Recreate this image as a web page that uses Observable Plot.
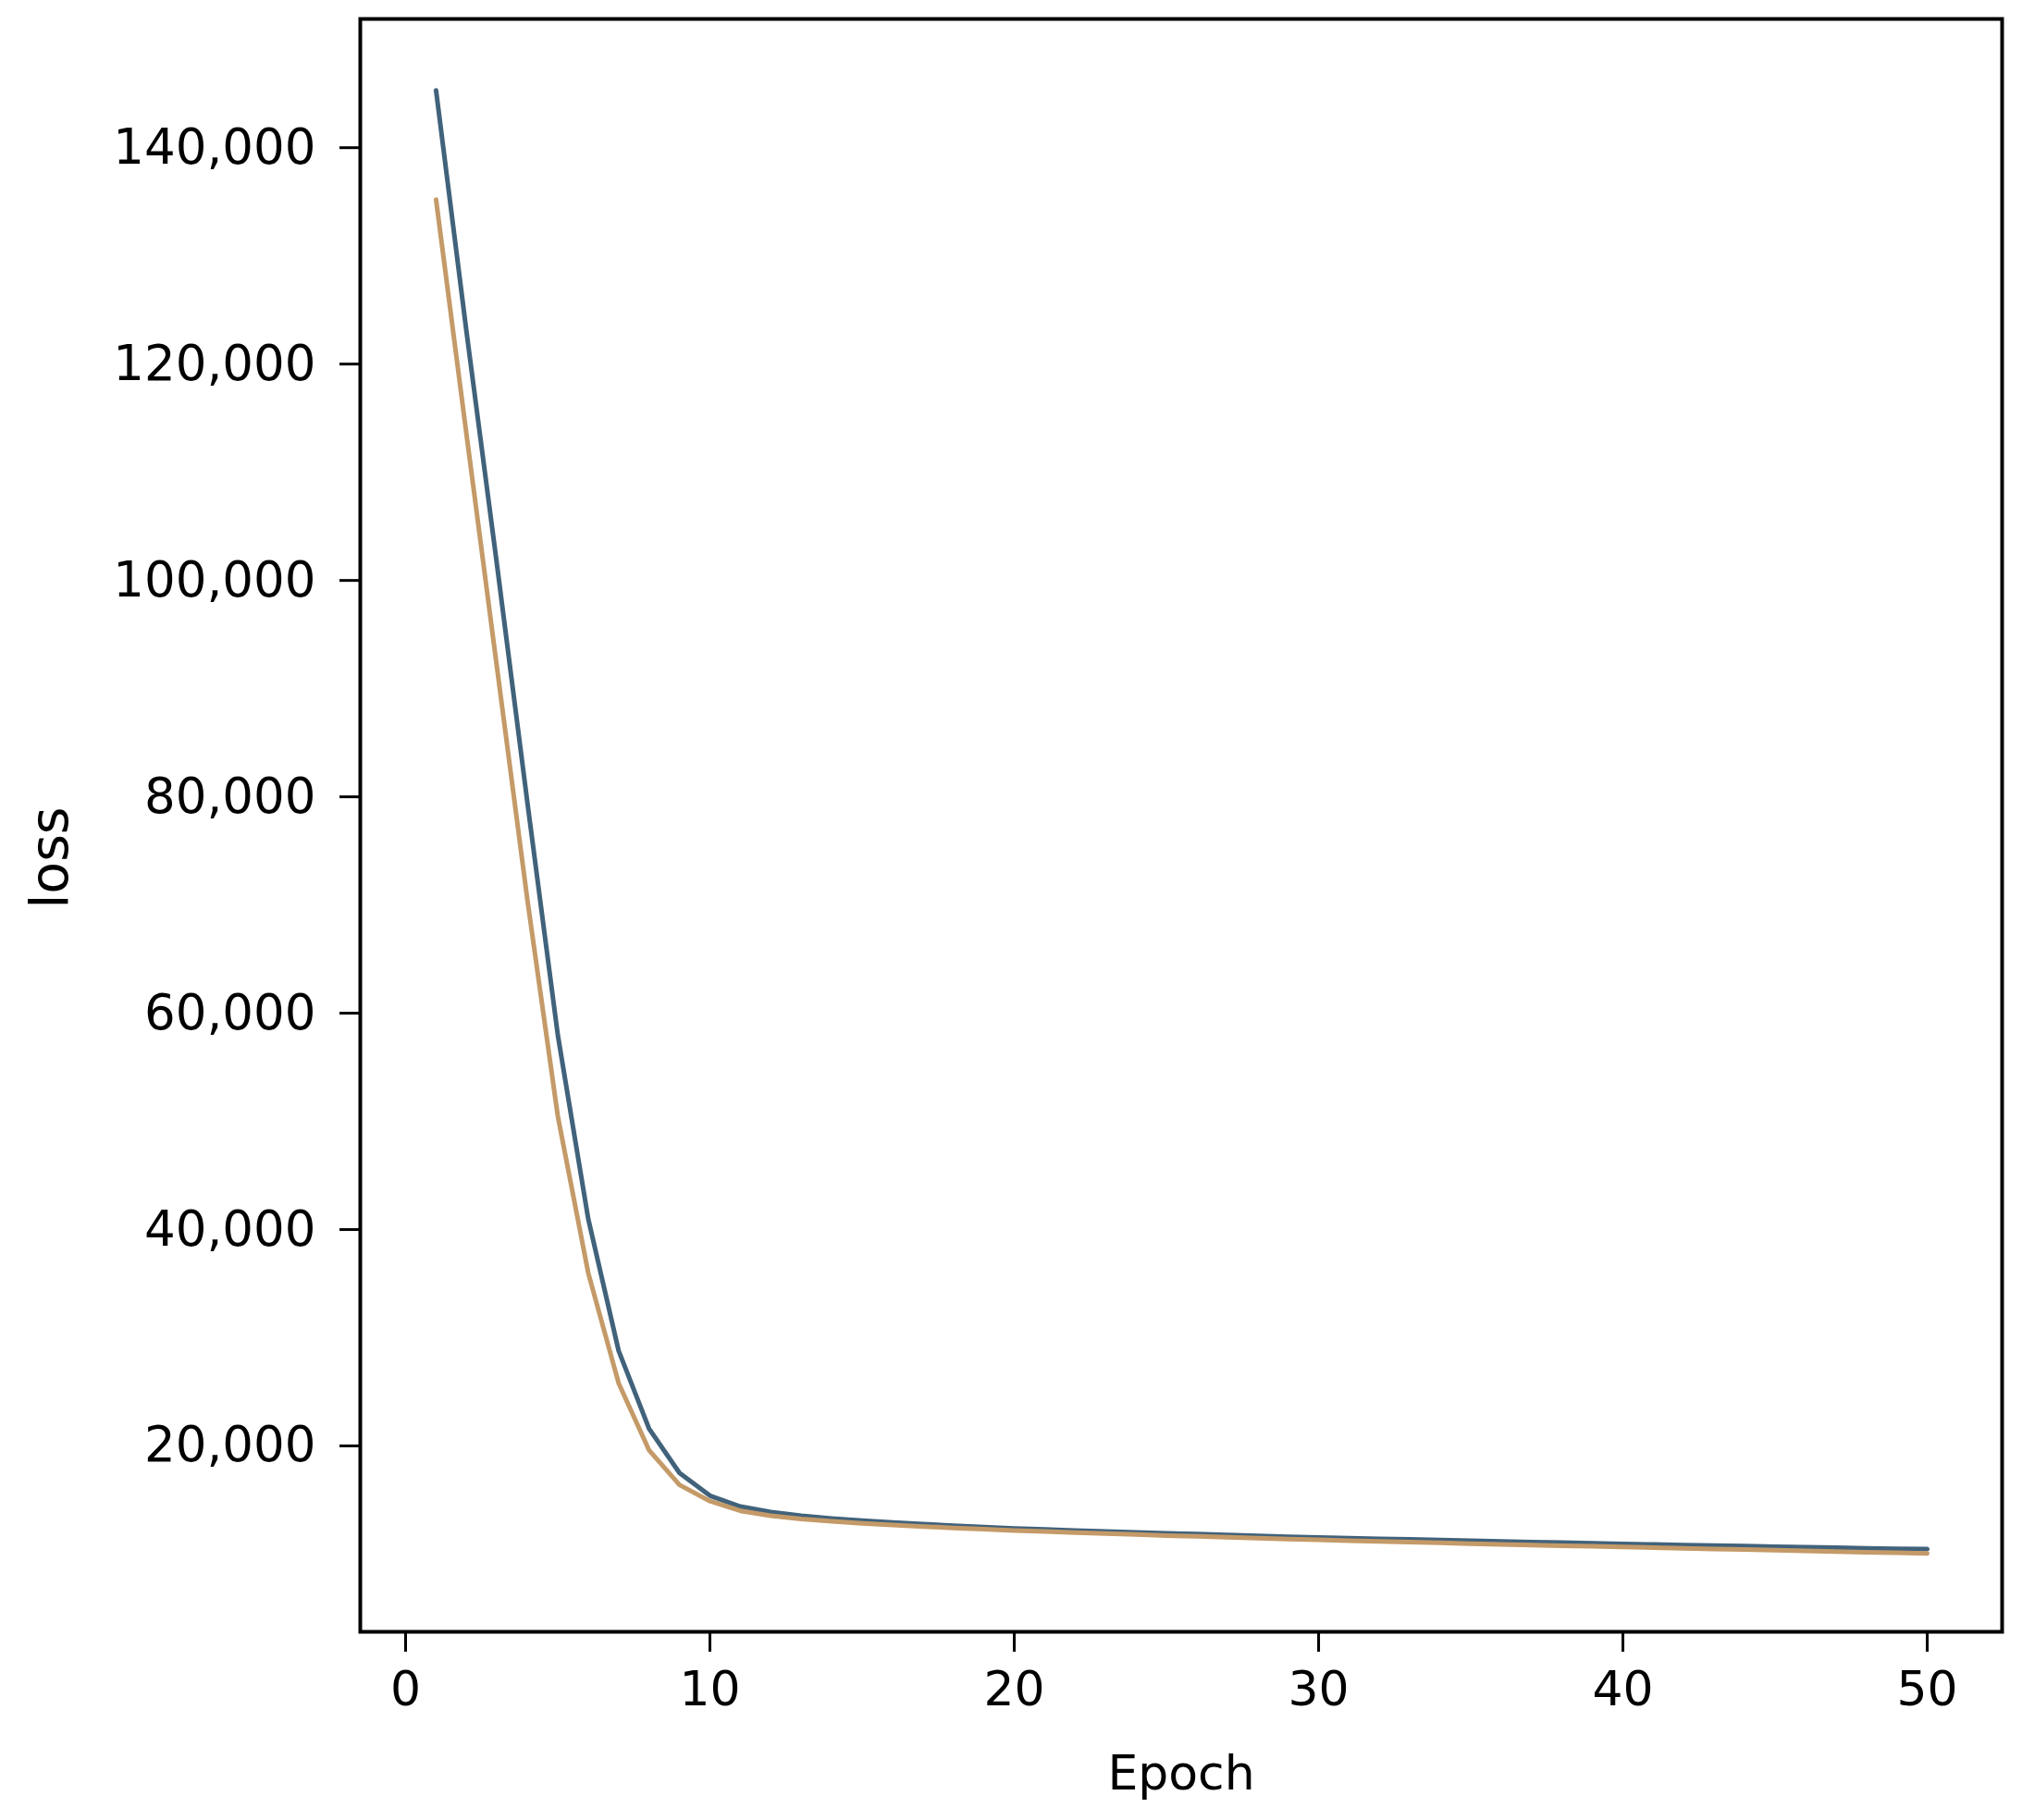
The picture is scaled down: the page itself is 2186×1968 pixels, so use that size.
<!DOCTYPE html>
<html>
<head>
<meta charset="utf-8">
<script src="https://cdn.jsdelivr.net/npm/d3@7"></script>
<script src="https://cdn.jsdelivr.net/npm/@observablehq/plot@0.6"></script>
<style>
  html, body { margin: 0; padding: 0; background: #ffffff; }
  #chart svg { display: block; }
</style>
</head>
<body>
<div id="chart"></div>
<script>
// ---- data ----
const epochs = [
  1, 2, 3, 4, 5, 6, 7, 8, 9, 10,
  11, 12, 13, 14, 15, 16, 17, 18, 19, 20,
  21, 22, 23, 24, 25, 26, 27, 28, 29, 30,
  31, 32, 33, 34, 35, 36, 37, 38, 39, 40,
  41, 42, 43, 44, 45, 46, 47, 48, 49, 50
];
const trainLoss = [
  145300, 123000, 101500, 79500, 58000, 41000, 28800, 21600, 17500, 15400,
  14400, 13900, 13550, 13300, 13100, 12920, 12770, 12630, 12500, 12380,
  12280, 12190, 12100, 12010, 11930, 11850, 11770, 11690, 11610, 11540,
  11480, 11420, 11360, 11300, 11240, 11180, 11120, 11060, 11000, 10940,
  10890, 10840, 10790, 10740, 10690, 10640, 10590, 10540, 10500, 10460
];
const valLoss = [
  135200, 113500, 92000, 70500, 50500, 36000, 25800, 19600, 16400, 14900,
  14000, 13550, 13250, 13030, 12850, 12690, 12550, 12420, 12300, 12190,
  12090, 11990, 11900, 11810, 11720, 11640, 11560, 11480, 11400, 11320,
  11250, 11180, 11110, 11040, 10970, 10900, 10840, 10780, 10720, 10660,
  10600, 10540, 10480, 10420, 10360, 10300, 10240, 10180, 10120, 10060
];
const xTicks = [0, 10, 20, 30, 40, 50];
const yTicks = [20000, 40000, 60000, 80000, 100000, 120000, 140000];
const seriesColors = ["#41627b", "#c49a68"];

const trainRows = epochs.map((e, i) => ({epoch: e, loss: trainLoss[i]}));
const valRows = epochs.map((e, i) => ({epoch: e, loss: valLoss[i]}));

const chart = Plot.plot({
  width: 2186,
  height: 1968,
  marginLeft: 389,
  marginRight: 22,
  marginTop: 20,
  marginBottom: 204,
  style: {
    fontFamily: "'DejaVu Sans', sans-serif",
    fontSize: "53px",
    background: "#ffffff",
    color: "#000000"
  },
  x: {domain: [-1.49, 52.46]},
  y: {domain: [2820, 151900]},
  marks: [
    Plot.line(trainRows, {x: "epoch", y: "loss", stroke: seriesColors[0], strokeWidth: 5, curve: "linear"}),
    Plot.line(valRows, {x: "epoch", y: "loss", stroke: seriesColors[1], strokeWidth: 5, curve: "linear"}),
    Plot.frame({stroke: "#000000", strokeWidth: 4}),
    Plot.axisX({
      ticks: xTicks,
      tickSize: 22,
      tickPadding: 21,
      strokeWidth: 3,
      label: "Epoch",
      labelAnchor: "center",
      labelArrow: "none",
      labelOffset: 170,
      fontSize: 52
    }),
    Plot.axisY({
      ticks: yTicks,
      tickFormat: d3.format(","),
      tickSize: 22,
      tickPadding: 26,
      strokeWidth: 3,
      label: null,
      fontSize: 53
    }),
    Plot.text(["loss"], {
      frameAnchor: "left",
      rotate: -90,
      dx: -335,
      dy: 35,
      textAnchor: "middle",
      lineAnchor: "middle",
      fontSize: 57,
      fill: "#000000"
    })
  ]
});

document.getElementById("chart").appendChild(chart);
</script>
</body>
</html>
